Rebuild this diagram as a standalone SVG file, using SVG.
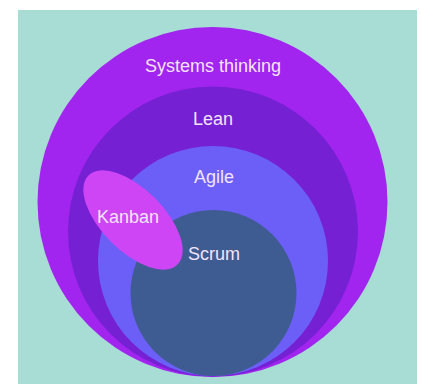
<svg xmlns="http://www.w3.org/2000/svg" width="421" height="384" viewBox="0 0 421 384">
<style>
.lbl{font-family:"Liberation Sans",Arial,sans-serif;font-size:18px;fill:#f3e3fb;text-anchor:middle}
</style>
<rect x="0" y="0" width="421" height="384" fill="#ffffff"/>
<rect x="18" y="10" width="399" height="374" fill="#a8ddd5"/>
<g id="systems"><circle cx="212.5" cy="202" r="175" fill="#a125ee"/><text class="lbl" x="213" y="72">Systems thinking</text></g>
<g id="lean"><circle cx="213" cy="231.5" r="145" fill="#7520d3"/><text class="lbl" x="213" y="125">Lean</text></g>
<g id="agile"><circle cx="213" cy="261" r="115" fill="#6b5ff7"/><text class="lbl" x="214" y="183">Agile</text></g>
<g id="scrum"><circle cx="213.5" cy="293" r="83" fill="#3f5c92"/><text class="lbl" x="214" y="260">Scrum</text></g>
<g id="kanban"><ellipse cx="133" cy="220" rx="63" ry="31" transform="rotate(45 133 220)" fill="#cd45f4"/><text class="lbl" x="128" y="223">Kanban</text></g>
<g id="connectors"/>
</svg>
